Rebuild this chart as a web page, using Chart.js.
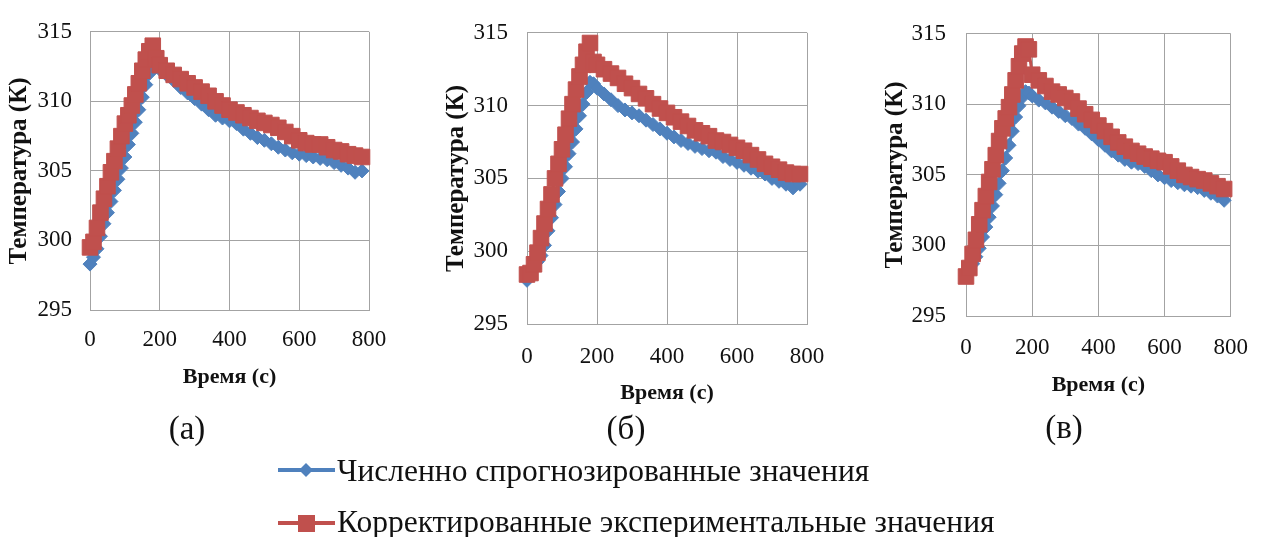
<!DOCTYPE html>
<html>
<head>
<meta charset="utf-8">
<script src="https://cdn.jsdelivr.net/npm/chart.js@4/dist/chart.umd.min.js"></script>
<style>
  body { margin: 0; background: #fff; }
  #wrap { position: relative; width: 1266px; height: 537px; overflow: hidden; font-family: "Liberation Serif", "Times New Roman", serif; color: #111; }
  canvas { position: absolute; left: 0; top: 0; }
  .sub { position: absolute; font-size: 33px; line-height: 33px; width: 80px; text-align: center; }
  .leg { position: absolute; left: 278px; height: 32px; }
  .leg svg { position: absolute; left: 0; top: 0; }
  .leg span { position: absolute; left: 59px; top: 0; font-size: 31.5px; line-height: 31px; white-space: nowrap; }
</style>
</head>
<body>
<div id="wrap">
  <canvas id="chartA" width="1266" height="537"></canvas>
  <canvas id="chartB" width="1266" height="537"></canvas>
  <canvas id="chartC" width="1266" height="537"></canvas>

  <div class="sub" style="left:147px; top:412px;">(а)</div>
  <div class="sub" style="left:586px; top:412px;">(б)</div>
  <div class="sub" style="left:1024px; top:411px;">(в)</div>

  <div class="leg" style="top:455px;">
    <svg width="58" height="32"><line x1="0" y1="15" x2="57" y2="15" stroke="#4f81bd" stroke-width="4"/><polygon points="28,8 35,15 28,22 21,15" fill="#4f81bd"/></svg>
    <span>Численно спрогнозированные значения</span>
  </div>
  <div class="leg" style="top:506px;">
    <svg width="58" height="32"><line x1="0" y1="17" x2="57" y2="17" stroke="#c0504d" stroke-width="4"/><rect x="20" y="9" width="17" height="17" fill="#c0504d"/></svg>
    <span>Корректированные экспериментальные значения</span>
  </div>
</div>

<script>
// time, s
var time = [0, 10, 20, 30, 40, 50, 60, 70, 80, 90, 100, 110, 120, 130, 140, 150, 160, 170, 180, 190,
	200, 220, 240, 260, 280, 300, 320, 340, 360, 380, 400, 420, 440, 460, 480, 500, 520, 540, 560, 580,
	600, 620, 640, 660, 680, 700, 720, 740, 760, 780];

// (а)
var blueA = [298.3, 298.8, 299.4, 300.3, 301.2, 302.0, 302.8, 303.6, 304.4, 305.2, 306.0, 306.9, 307.7, 308.5, 309.4, 310.3, 311.2, 312.0, 312.6, 312.5,
	312.3, 311.9, 311.5, 311.0, 310.6, 310.2, 309.8, 309.4, 309.0, 308.8, 308.6, 308.4, 308.0, 307.7, 307.4, 307.2, 306.95, 306.7, 306.5, 306.3,
	306.2, 306.1, 306.0, 305.9, 305.8, 305.6, 305.4, 305.2, 304.9, 305.0];
var redA = [299.5, 299.9, 300.9, 302.0, 303.0, 303.9, 304.9, 305.7, 306.6, 307.5, 308.4, 309.0, 309.7, 310.5, 311.3, 312.2, 313.0, 313.6, 314.0, 313.1,
	312.6, 312.2, 311.9, 311.6, 311.3, 311.0, 310.7, 310.4, 310.0, 309.7, 309.4, 309.2, 309.0, 308.8, 308.6, 308.45, 308.3, 308.1, 307.8, 307.5,
	307.2, 307.0, 306.9, 306.9, 306.7, 306.5, 306.4, 306.2, 306.1, 306.0];

// (б)
var blueB = [298.0, 298.3, 298.8, 299.3, 299.7, 300.4, 301.4, 302.3, 303.2, 304.1, 305.0, 305.8, 306.7, 307.5, 308.4, 309.3, 310.1, 310.9, 311.6, 311.5,
	311.2, 310.8, 310.4, 310.0, 309.7, 309.5, 309.3, 309.0, 308.7, 308.4, 308.1, 307.85, 307.6, 307.4, 307.2, 307.05, 306.9, 306.8, 306.5, 306.3,
	306.1, 305.9, 305.7, 305.5, 305.3, 305.0, 304.8, 304.6, 304.35, 304.6];
var redB = [298.4, 298.5, 299.1, 299.9, 300.9, 301.9, 302.9, 303.9, 305.0, 306.0, 307.0, 308.0, 309.1, 310.1, 311.1, 312.0, 312.8, 313.7, 314.3, 313.0,
	312.8, 312.5, 312.2, 311.9, 311.5, 311.2, 310.8, 310.5, 310.1, 309.8, 309.5, 309.2, 308.9, 308.6, 308.3, 308.1, 307.9, 307.6, 307.5, 307.3,
	307.1, 306.9, 306.6, 306.3, 306.0, 305.8, 305.6, 305.4, 305.3, 305.3];

// (в)
var blueC = [297.9, 298.2, 298.7, 299.2, 299.8, 300.6, 301.3, 302.0, 302.8, 303.6, 304.4, 305.3, 306.2, 307.1, 308.1, 309.1, 309.9, 310.5, 310.9, 310.8,
	310.6, 310.3, 310.1, 309.8, 309.5, 309.2, 309.0, 308.6, 308.3, 307.9, 307.5, 307.1, 306.7, 306.4, 306.1, 305.9, 305.8, 305.6, 305.3, 305.0,
	304.8, 304.6, 304.45, 304.3, 304.2, 304.1, 303.9, 303.7, 303.5, 303.2];
var redC = [297.8, 298.4, 299.4, 300.4, 301.5, 302.5, 303.5, 304.5, 305.4, 306.4, 307.4, 308.3, 309.0, 309.8, 310.7, 311.7, 312.7, 313.6, 314.1, 313.9,
	312.1, 311.7, 311.3, 310.9, 310.7, 310.45, 310.2, 309.7, 309.3, 308.9, 308.5, 308.1, 307.7, 307.3, 307.0, 306.7, 306.5, 306.3, 306.15, 306.0,
	305.9, 305.6, 305.3, 305.0, 304.85, 304.7, 304.6, 304.4, 304.2, 304.0];

var xTicks = [0, 200, 400, 600, 800];
var yTicks = [295, 300, 305, 310, 315];
var xTitle = "Время (с)";
var yTitle = "Температура (К)";

var BLUE = "#4f81bd";
var RED = "#c0504d";
var GRID = "#a3a3a3";

function points(ys) {
	var out = [];
	for (var i = 0; i < time.length; i++) {
		out.push({ x: time[i], y: ys[i] });
	}
	return out;
}

// box: plot area edges, y title centre x, x title centre y, tick label offsets
function drawPanel(id, blue, red, box) {
	var padLeft = box.yTitleX - 15;
	var axisBottom = box.xTitleY + 13.2;

	new Chart(document.getElementById(id), {
		type: "line",
		data: {
			datasets: [
				{
					label: "Корректированные экспериментальные значения",
					data: points(red),
					borderColor: RED,
					backgroundColor: RED,
					borderWidth: 3,
					pointStyle: "rect",
					pointRadius: 11,
					pointBorderWidth: 1,
					tension: 0,
					clip: false
				},
				{
					label: "Численно спрогнозированные значения",
					data: points(blue),
					borderColor: BLUE,
					backgroundColor: BLUE,
					borderWidth: 3,
					pointStyle: "rectRot",
					pointRadius: 7,
					pointBorderWidth: 1,
					tension: 0,
					clip: false
				}
			]
		},
		options: {
			responsive: false,
			animation: false,
			devicePixelRatio: 1,
			layout: {
				padding: { left: padLeft, top: box.top, right: 1266 - box.right, bottom: 537 - axisBottom }
			},
			plugins: { legend: { display: false }, tooltip: { enabled: false } },
			scales: {
				x: {
					type: "linear",
					min: xTicks[0],
					max: xTicks[xTicks.length - 1],
					afterBuildTicks: function(scale) { scale.ticks = xTicks.map(function(v) { return { value: v }; }); },
					afterFit: function(scale) { scale.height = axisBottom - box.bottom; },
					grid: { color: GRID, lineWidth: 1, drawTicks: false },
					border: { color: GRID, width: 1 },
					ticks: { padding: box.xPad, color: "#111", font: { family: "Liberation Serif", size: 23 }, maxRotation: 0 },
					title: { display: true, text: xTitle, color: "#111", padding: 0, font: { family: "Liberation Serif", size: 22, weight: "bold" } }
				},
				y: {
					min: yTicks[0],
					max: yTicks[yTicks.length - 1],
					afterBuildTicks: function(scale) { scale.ticks = yTicks.map(function(v) { return { value: v }; }); },
					afterFit: function(scale) { scale.width = box.left - padLeft; },
					grid: { color: GRID, lineWidth: 1, drawTicks: false },
					border: { color: GRID, width: 1 },
					ticks: { padding: box.yPad, color: "#111", font: { family: "Liberation Serif", size: 23 } },
					title: { display: true, text: yTitle, color: "#111", padding: 0, font: { family: "Liberation Serif", size: 25, weight: "bold" } }
				}
			}
		}
	});
}

drawPanel("chartA", blueA, redA, { left: 90, right: 369, top: 25, bottom: 310, yTitleX: 20, xTitleY: 377, yPad: 18, xPad: 16 });
drawPanel("chartB", blueB, redB, { left: 527, right: 807, top: 26, bottom: 324, yTitleX: 457, xTitleY: 393, yPad: 19, xPad: 19 });
drawPanel("chartC", blueC, redC, { left: 966, right: 1246, top: 25, bottom: 316, yTitleX: 896, xTitleY: 385, yPad: 20, xPad: 18 });
</script>
</body>
</html>
